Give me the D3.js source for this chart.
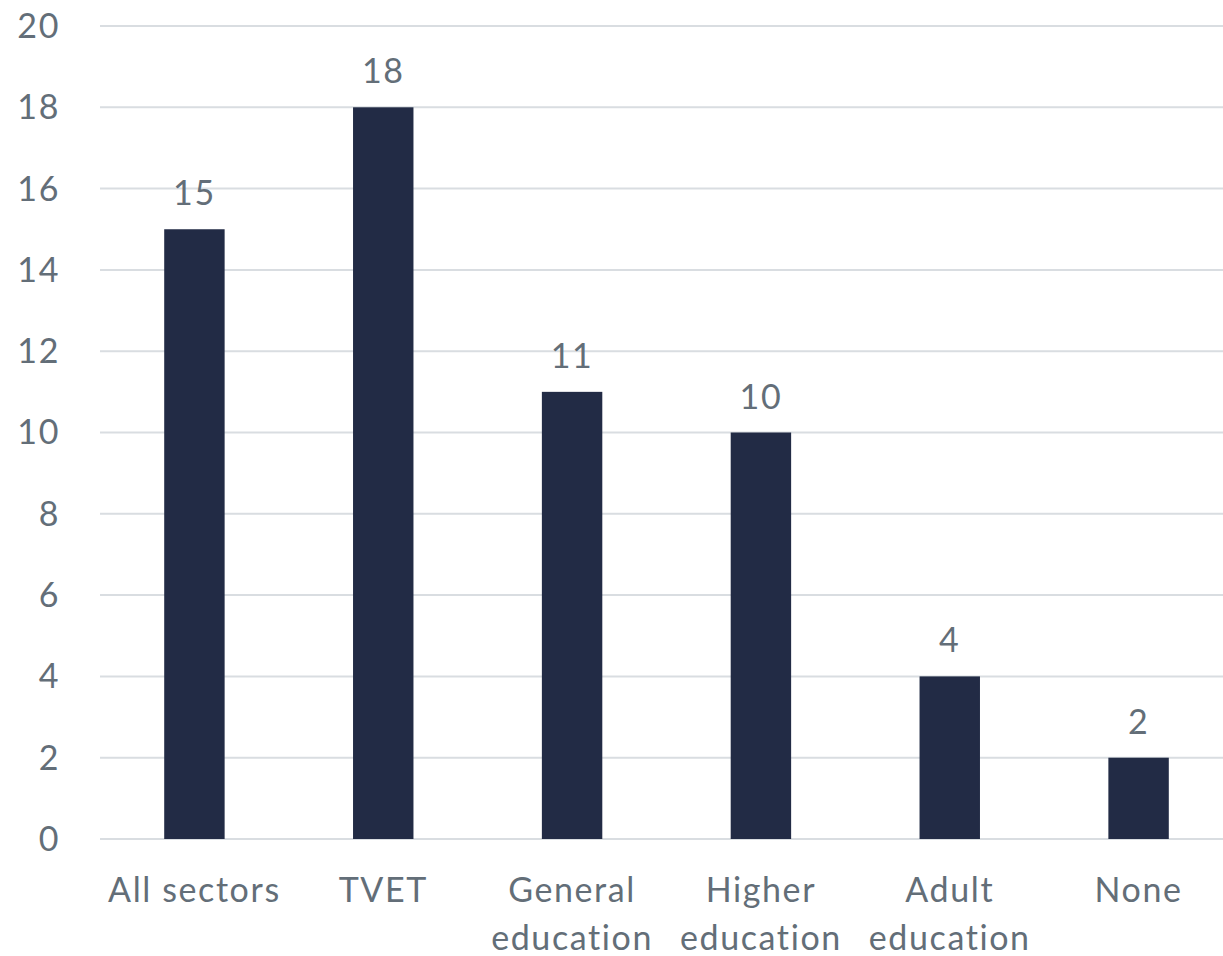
<!DOCTYPE html>
<html><head><meta charset="utf-8">
<script src="https://cdn.jsdelivr.net/npm/d3@7"></script>
<style>body{margin:0;background:#fff}svg{display:block}text{font-family:Lato,"Open Sans",sans-serif;letter-spacing:1.6px}</style>
</head><body>
<svg id="c" width="1223" height="956"></svg>
<script>
const categories = [["All sectors"],["TVET"],["General","education"],["Higher","education"],["Adult","education"],["None"]];
const values = [15,18,11,10,4,2];
const yTicks = [0,2,4,6,8,10,12,14,16,18,20];

const svg = d3.select("#c");
const x = d3.scaleBand().domain(d3.range(categories.length)).range([100,1233]).paddingInner(0.68).paddingOuter(0.34);
const y = d3.scaleLinear().domain([0,20]).range([839,26]);
const txt = "#636e78";
const fs = 34;

svg.append("g").selectAll("line").data(yTicks).join("line")
  .attr("x1",100).attr("x2",1223).attr("y1",d=>y(d)).attr("y2",d=>y(d))
  .attr("stroke","#d9dde1").attr("stroke-width",2);

svg.append("g").selectAll("text").data(yTicks).join("text")
  .attr("x",60).attr("y",d=>y(d)).attr("dy","0.35em").attr("text-anchor","end")
  .attr("fill",txt).attr("font-size",fs).text(d=>d);

svg.append("g").selectAll("rect").data(values).join("rect")
  .attr("x",(d,i)=>x(i)).attr("width",x.bandwidth())
  .attr("y",d=>y(d)).attr("height",d=>y(0)-y(d)).attr("fill","#222b45");

svg.append("g").selectAll("text").data(values).join("text")
  .attr("x",(d,i)=>x(i)+x.bandwidth()/2).attr("y",d=>y(d)-24)
  .attr("text-anchor","middle").attr("fill",txt).attr("font-size",fs).text(d=>d);

const lab = svg.append("g").selectAll("text").data(categories).join("text")
  .attr("x",(d,i)=>x(i)+x.bandwidth()/2).attr("y",902)
  .attr("text-anchor","middle").attr("fill",txt).attr("font-size",fs);
lab.selectAll("tspan").data(d=>d).join("tspan")
  .attr("x",function(){return this.parentNode.getAttribute("x");})
  .attr("dy",(d,j)=>j?48:0).text(d=>d);
</script>
</body></html>
